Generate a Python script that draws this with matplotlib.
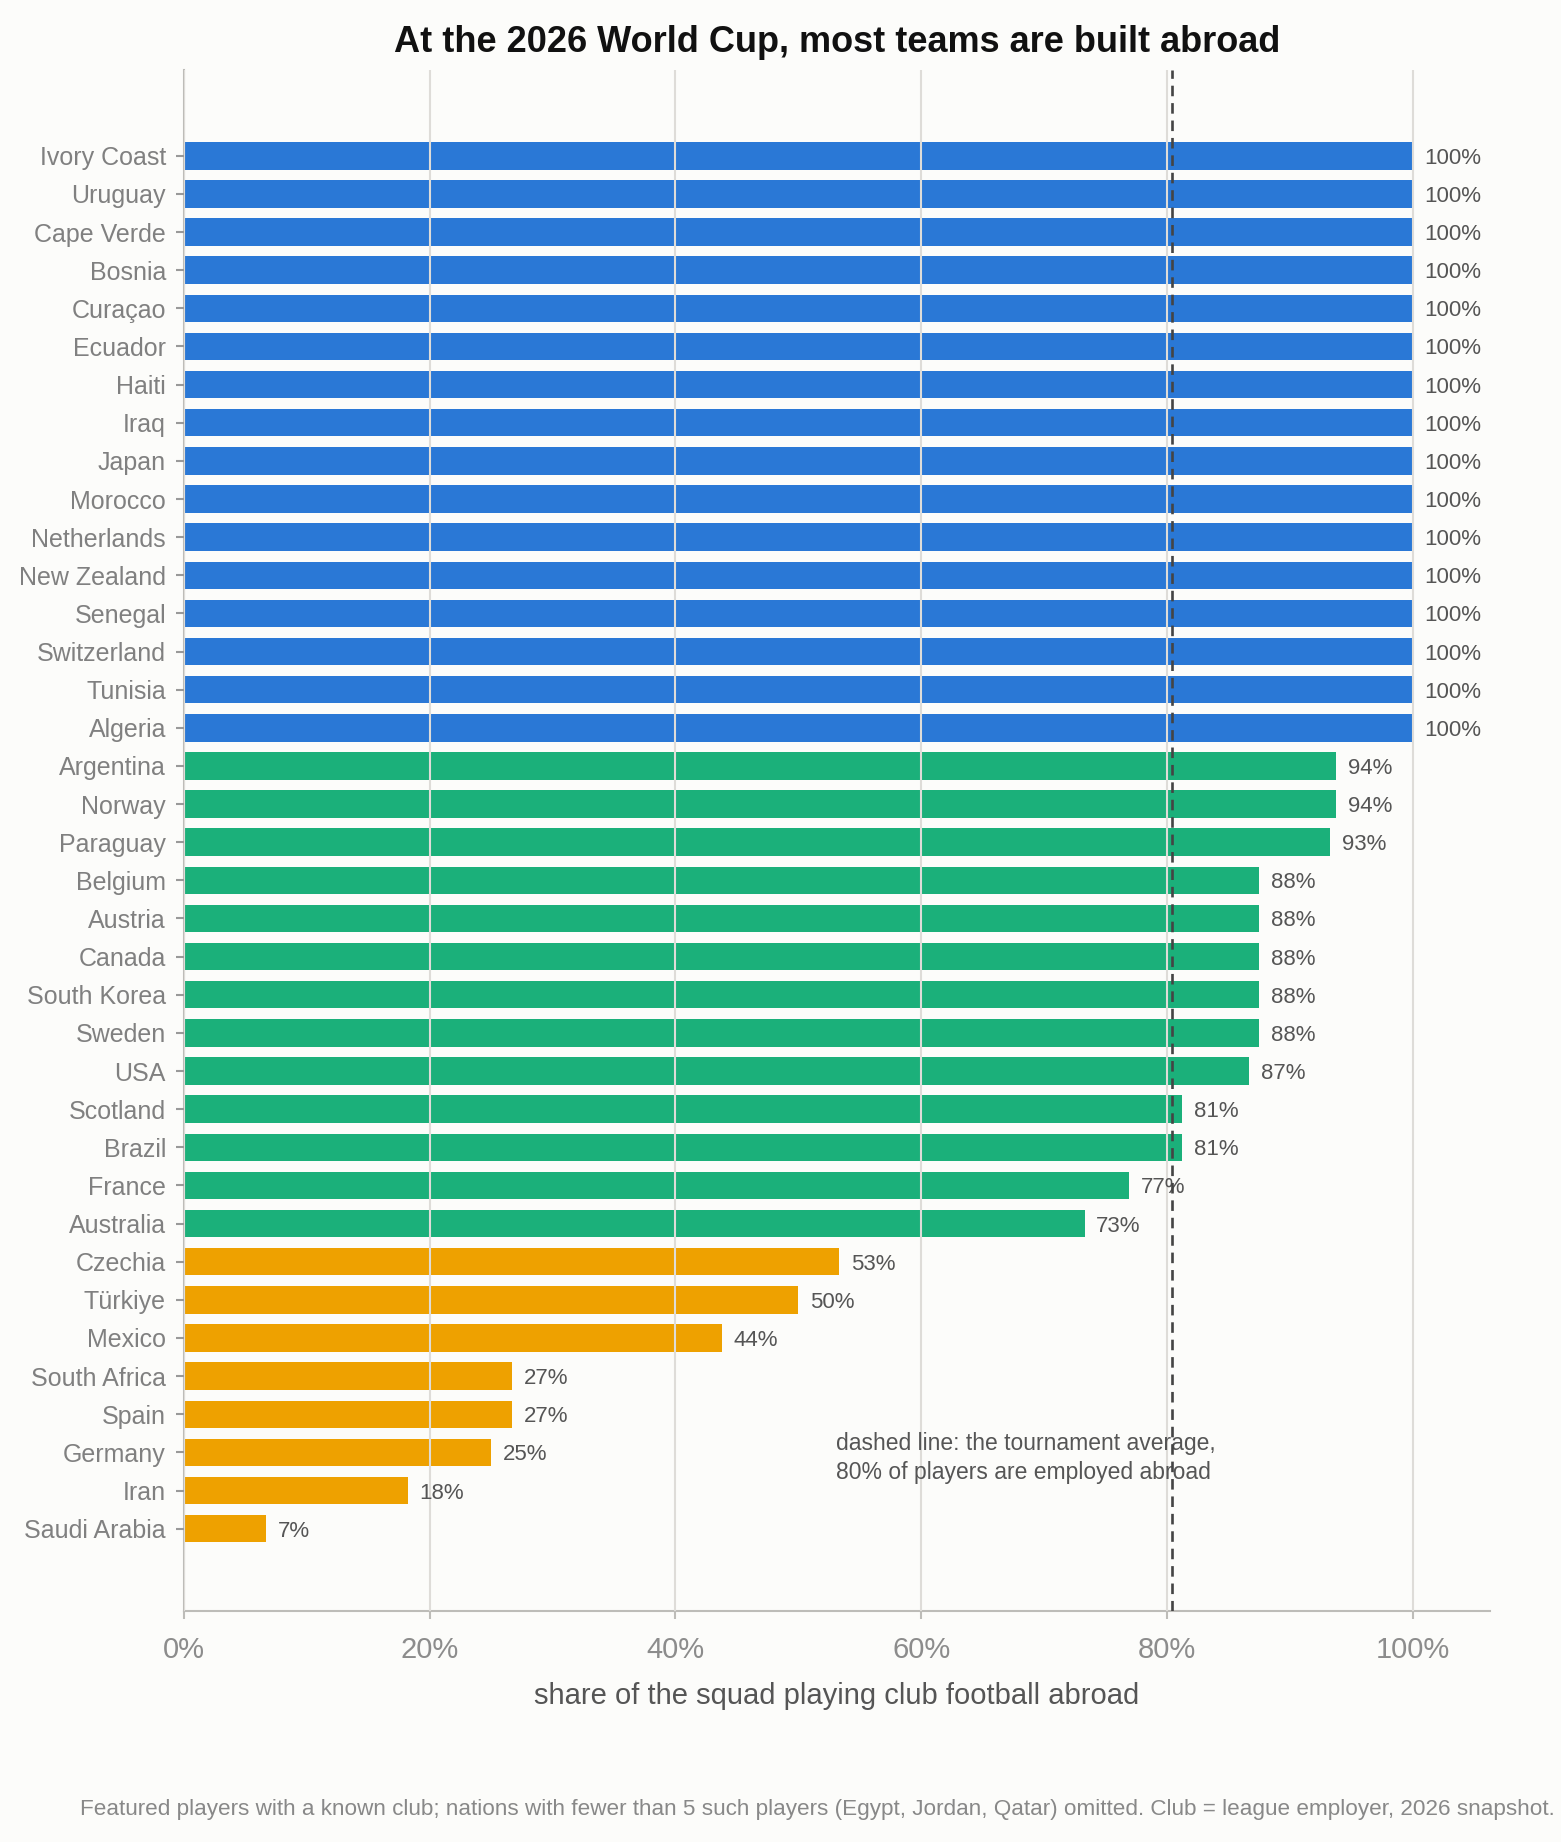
import matplotlib
matplotlib.use("Agg")
import matplotlib.pyplot as plt
from matplotlib.ticker import FuncFormatter

plt.rcParams["font.family"] = ["Liberation Sans", "DejaVu Sans"]

# share of squad playing abroad (%)
countries = [
    "Ivory Coast", "Uruguay", "Cape Verde", "Bosnia", "Curaçao", "Ecuador",
    "Haiti", "Iraq", "Japan", "Morocco", "Netherlands", "New Zealand",
    "Senegal", "Switzerland", "Tunisia", "Algeria",
    "Argentina", "Norway", "Paraguay", "Belgium", "Austria", "Canada",
    "South Korea", "Sweden", "USA", "Scotland", "Brazil", "France", "Australia",
    "Czechia", "Türkiye", "Mexico", "South Africa", "Spain", "Germany",
    "Iran", "Saudi Arabia",
]
shares = [
    100, 100, 100, 100, 100, 100, 100, 100, 100, 100, 100, 100, 100, 100, 100, 100,
    93.75, 93.75, 93.3, 87.5, 87.5, 87.5, 87.5, 87.5, 86.7, 81.25, 81.25, 76.9, 73.3,
    53.3, 50.0, 43.75, 26.7, 26.7, 25.0, 18.2, 6.7,
]
# group: 0 = all abroad, 1 = above 70%, 2 = below
groups = [0] * 16 + [1] * 13 + [2] * 8
group_colors = ["#2a78d6", "#1bb07a", "#eea100"]
tournament_avg = 80.4

title = "At the 2026 World Cup, most teams are built abroad"
xlabel = "share of the squad playing club football abroad"
note = ("dashed line: the tournament average,\n"
        "80% of players are employed abroad")
footnote = ("Featured players with a known club; nations with fewer than 5 such players "
            "(Egypt, Jordan, Qatar) omitted. Club = league employer, 2026 snapshot.")

bg = "#fcfcfa"
fig = plt.figure(figsize=(15.61, 18.42), dpi=100, facecolor=bg)
ax = fig.add_axes([0.1179, 0.1254, 0.9545 - 0.1179, 0.962 - 0.1254])
ax.set_facecolor(bg)

ypos = list(range(len(countries)))
colors = [group_colors[g] for g in groups]
ax.barh(ypos, shares, height=0.72, color=colors, zorder=1)

for y, v in zip(ypos, shares):
    ax.annotate(f"{v:.0f}%", (v, y), xytext=(8.5, 0), textcoords="offset points",
                va="center_baseline", ha="left", fontsize=16, color="#555555", zorder=3)

ax.axvline(tournament_avg, color="#444444", lw=1.9, ls=(0, (4, 2.6)), zorder=4)
ax.text(53.05, 34.15, note, fontsize=16.5, color="#555555", va="center", ha="left",
        linespacing=1.35, zorder=3)

ax.set_xlim(0, 106.3)
ax.set_ylim(38.16, -2.25)
ax.set_yticks(ypos)
ax.set_yticklabels(countries)
ax.set_xticks([0, 20, 40, 60, 80, 100])
ax.xaxis.set_major_formatter(FuncFormatter(lambda x, _: f"{x:.0f}%"))

ax.set_axisbelow(False)
ax.grid(axis="x", color="#dedcd8", lw=1.5)
ax.grid(axis="y", visible=False)

for side in ["top", "right"]:
    ax.spines[side].set_visible(False)
for side in ["left", "bottom"]:
    ax.spines[side].set_color("#bdbcb8")
    ax.spines[side].set_linewidth(1.5)

ax.tick_params(axis="y", length=6, width=1.5, color="#999999", labelsize=18,
               labelcolor="#808080", pad=7)
ax.tick_params(axis="x", length=6, width=1.5, color="#bdbcb8", labelsize=21,
               labelcolor="#8c8c8c", pad=12)
ax.set_xlabel(xlabel, fontsize=21, color="#555555", labelpad=13)

fig.text(0.536, 0.977, title, fontsize=26, fontweight="bold", color="#111111",
         ha="center", va="center")
fig.text(0.996, 0.0175, footnote, fontsize=16.2, color="#888888", ha="right", va="center")

fig.savefig("out.png", dpi=100, facecolor=bg)
